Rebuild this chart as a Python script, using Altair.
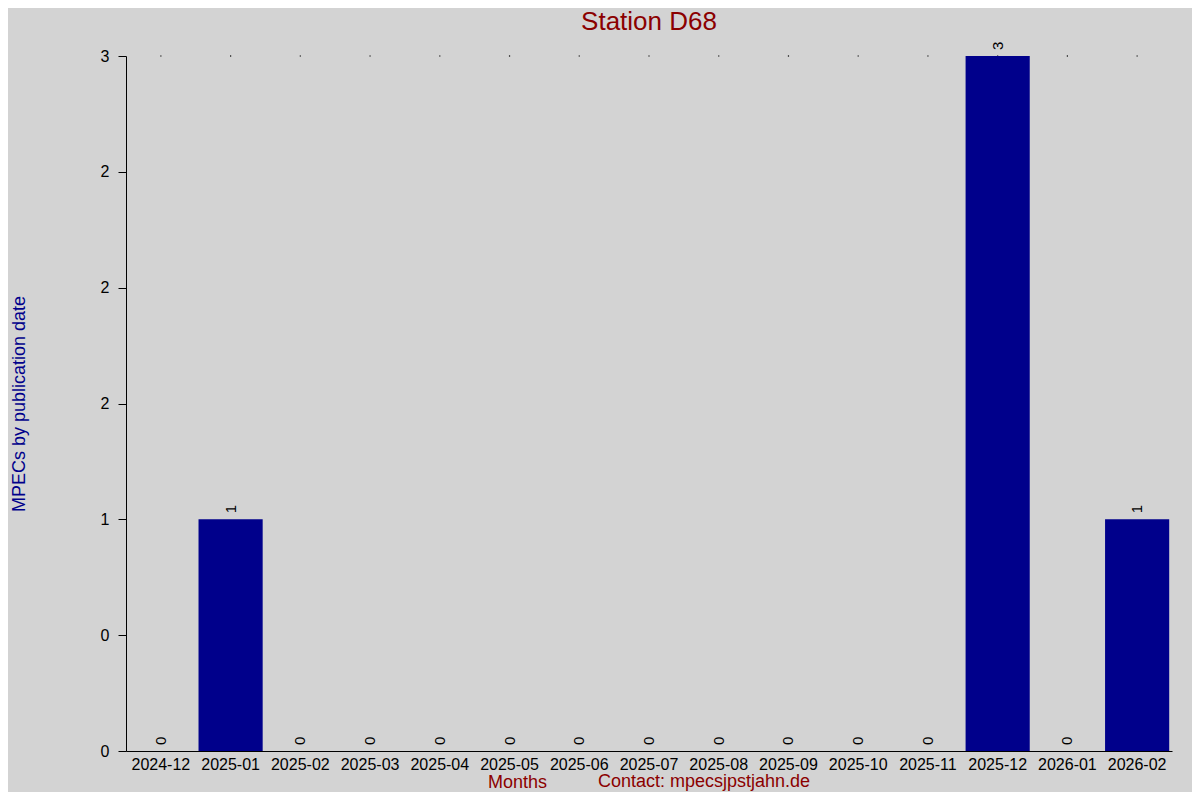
import altair as alt
import pandas as pd

months = ["2024-12", "2025-01", "2025-02", "2025-03", "2025-04", "2025-05", "2025-06",
          "2025-07", "2025-08", "2025-09", "2025-10", "2025-11", "2025-12", "2026-01", "2026-02"]
counts = [0, 1, 0, 0, 0, 0, 0, 0, 0, 0, 0, 0, 3, 0, 1]
top_marks = [3] * len(months)

ytick_values = [0, 0.5, 1, 1.5, 2, 2.5, 3]
ytick_labels = ["0", "0", "1", "2", "2", "2", "3"]

title_text = "Station D68"
y_title = "MPECs by publication date"
x_title = "Months"
contact_text = "Contact: mpecsjpstjahn.de"

df = pd.DataFrame({"month": months, "count": counts, "top": top_marks})

label_expr = ""
for v, l in zip(ytick_values, ytick_labels):
    label_expr += f"datum.value == {v} ? '{l}' : "
label_expr += "''"

FONT = "Liberation Sans"
W, H = 1046, 695

xenc = alt.X("month:N", sort=months,
             scale=alt.Scale(paddingInner=0.08, paddingOuter=0.04),
             axis=alt.Axis(title=x_title, titleColor="#8B0000", titleFontSize=18,
                           titleFontWeight="normal", titleFont=FONT,
                           titleX=391, titleY=36, titleAlign="center", titleBaseline="alphabetic",
                           labelAngle=0, labelAlign="center", labelBaseline="top",
                           labelFontSize=16, labelFont=FONT, labelColor="black",
                           labelPadding=5, ticks=False, domainColor="black", domainWidth=1,
                           grid=False))

yscale = alt.Scale(domain=[0, 3], nice=False, zero=True)

base = alt.Chart(df)

bars = base.mark_bar(color="#00008B").encode(
    x=xenc,
    y=alt.Y("count:Q", scale=yscale,
            axis=alt.Axis(title=y_title, titleColor="#00008B", titleFontSize=18,
                          titleFontWeight="normal", titleFont=FONT, titleAngle=270,
                          titleX=-107, titleY=H / 2, titleAlign="center", titleBaseline="middle",
                          values=ytick_values, labelExpr=label_expr,
                          labelFontSize=16, labelFont=FONT, labelColor="black",
                          labelPadding=9, tickSize=8, tickColor="black",
                          domainColor="black", grid=False)),
)

dots = base.mark_square(color="black", size=1.5, opacity=1).encode(
    x=xenc,
    y=alt.Y("top:Q", scale=yscale),
)

labels = base.mark_text(angle=270, align="left", baseline="middle", dx=6,
                        fontSize=15, font=FONT, color="black").encode(
    x=xenc,
    y=alt.Y("count:Q", scale=yscale),
    text=alt.Text("count:Q"),
)

contact = alt.Chart(pd.DataFrame({"t": [contact_text]})).mark_text(
    fontSize=18, font=FONT, color="#8B0000", align="center", baseline="alphabetic"
).encode(
    x=alt.value(578), y=alt.value(H + 36), text="t:N"
)

chart = alt.layer(dots, bars, labels, contact).properties(
    width=W, height=H,
    title=alt.TitleParams(title_text, fontSize=26, font=FONT, color="#8B0000",
                          fontWeight="normal", anchor="middle", offset=7),
    background="#D3D3D3",
    autosize=alt.AutoSizeParams(type="none"),
    padding={"left": 118, "top": 48, "right": 20, "bottom": 41},
).configure_view(stroke=None)

chart.save("out.html", embed_options={"renderer": "svg", "actions": False})
